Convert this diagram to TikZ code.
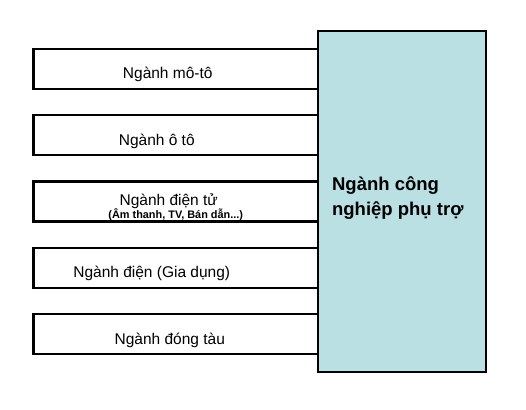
\documentclass[tikz,border=0pt]{standalone}
\usepackage{fontspec}
\setmainfont{Liberation Sans}
\usetikzlibrary{positioning}
\definecolor{hubblue}{RGB}{187,224,228}

\begin{document}
\begin{tikzpicture}[x=1pt,y=-1pt,node distance=66.25pt,on grid,
   branch/.style={draw,line width=2.2pt,rectangle,minimum width=284.5pt,minimum height=40pt,inner sep=0pt},
   hub/.style={draw,line width=2.2pt,rectangle,fill=hubblue,minimum width=168pt,minimum height=341pt,inner sep=0pt},
   lbl/.style={anchor=base,inner sep=0pt,font=\fontsize{15.5}{18}\selectfont},
   sublbl/.style={anchor=base,inner sep=0pt,font=\fontsize{10.9}{12}\selectfont\bfseries}]
   \useasboundingbox (0,0) rectangle (526,409);
   \node[branch] (dientu) at (175.75,201.5) {};
   \node[branch] (oto) [above=of dientu] {};
   \node[branch] (moto) [above=of oto] {};
   \node[branch] (diengd) [below=of dientu] {};
   \node[branch] (dongtau) [below=of diengd] {};
   \node[hub] (phutro) at (402,201.5) {};
   % nhan cac nganh
   \node[lbl] (tmoto) at ([xshift=-8pt,yshift=-10pt]moto.center) {Ngành mô-tô};
   \node[lbl] (toto) at ([xshift=-19pt,yshift=-10pt]oto.center) {Ngành ô tô};
   \node[lbl] (tdientu) at ([xshift=-7pt,yshift=-4pt]dientu.center) {Ngành điện tử};
   \node[sublbl] (tdientu2) at ([xshift=0pt,yshift=-17pt]dientu.center) {(Âm thanh, TV, Bán dẫn...)};
   \node[lbl] (tdiengd) at ([xshift=-24pt,yshift=-10pt]diengd.center) {Ngành điện (Gia dụng)};
   \node[lbl] (tdongtau) at ([xshift=-6pt,yshift=-10pt]dongtau.center) {Ngành đóng tàu};
   \node[anchor=base west,inner sep=0pt,align=left,font=\fontsize{18.5}{25}\selectfont\bfseries]
      (tphutro) at ([xshift=15pt,yshift=-13.5pt]phutro.west) {Ngành công\\nghiệp phụ trợ};
\end{tikzpicture}
\end{document}
